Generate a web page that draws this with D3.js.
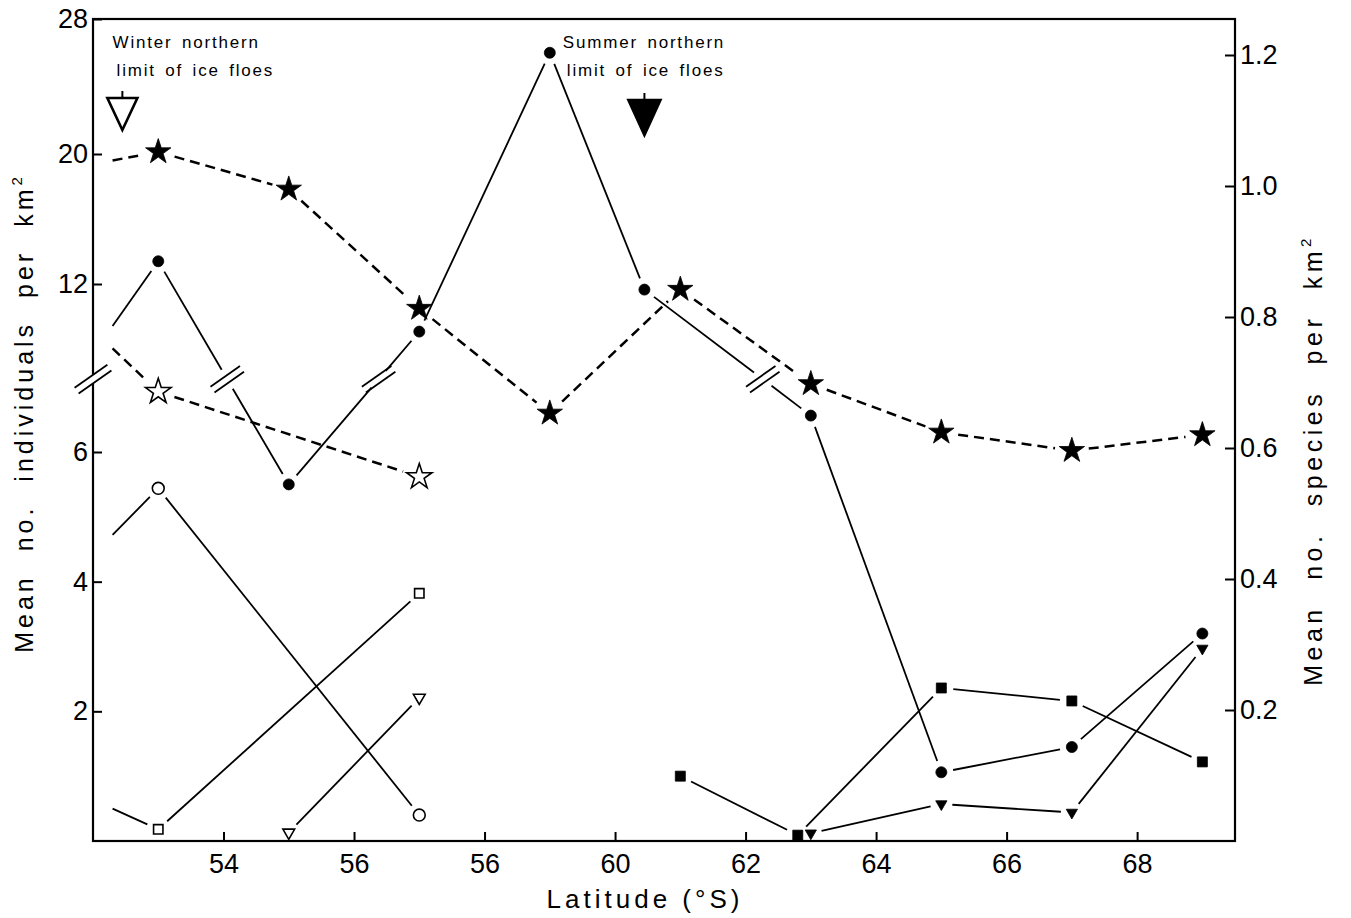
<!DOCTYPE html>
<html>
<head>
<meta charset="utf-8">
<script src="https://cdn.jsdelivr.net/npm/d3@7"></script>
<style>
  html, body { margin: 0; padding: 0; background: #fff; }
  svg { display: block; font-family: "Liberation Sans", Arial, Helvetica, sans-serif; }
</style>
</head>
<body>
<svg id="chart" width="1351" height="918"></svg>
<script>
// ---- Axis ticks ----
const xTickValues = [54, 56, 58, 60, 62, 64, 66, 68];
const xTickLabels = ["54", "56", "56", "60", "62", "64", "66", "68"];
const leftTickValues = [2, 4, 6, 12, 20, 28];
const rightTickValues = [0.2, 0.4, 0.6, 0.8, 1.0, 1.2];
const leftAxisBreak = 8.6;            // value at which the left axis is broken

// ---- Mean no. individuals per km² (left axis, solid lines) ----
// the first point of a lead-in series carries no marker
const filledCircleLat = [52.3, 53, 55, 57, 59, 60.45, 63, 65, 67, 69];
const filledCircleVal = [10.5, 13.4, 5.5, 10.3, 26.0, 11.8, 7.3, 1.06, 1.45, 3.2];
const openCircleLat = [52.3, 53, 57];
const openCircleVal = [4.72, 5.44, 0.40];
const openSquareLat = [52.3, 53, 57];
const openSquareVal = [0.50, 0.18, 3.82];
const openTriangleLat = [55, 57];
const openTriangleVal = [0.13, 2.21];
const filledSquareLat = [61, 62.8, 65, 67, 69];
const filledSquareVal = [1.00, 0.09, 2.36, 2.16, 1.22];
const filledTriangleLat = [63, 65, 67, 69];
const filledTriangleVal = [0.12, 0.57, 0.44, 2.97];

// ---- Mean no. species per km² (right axis, dashed lines) ----
const filledStarLat = [52.3, 53, 55, 57, 59, 61, 63, 65, 67, 69];
const filledStarVal = [1.039, 1.052, 0.995, 0.813, 0.653, 0.842, 0.698, 0.624, 0.596, 0.620];
const openStarLat = [52.3, 53, 57];
const openStarVal = [0.752, 0.686, 0.556];

// ---- Northern limits of ice floes ----
const iceLimitLat = [52.45, 60.45];
const iceLimitText = [["Winter northern", "limit of ice floes"], ["Summer northern", "limit of ice floes"]];
const iceLimitTextLat = [52.3, 59.2];
const iceLimitFilled = [false, true];

// ---- Scales ----
const svg = d3.select("#chart");
const x = d3.scaleLinear().domain([52, 69.5]).range([93, 1235]);
const yLeft = d3.scaleLinear().domain([0, 6, 12, 20, 28]).range([841, 452, 284, 154, 19]);
const yRight = d3.scaleLinear().domain([0, 1.2]).range([841, 55]);
const plot = { left: 93, right: 1235, top: 19, bottom: 841 };

const series = [
  { lat: filledStarLat, val: filledStarVal, y: yRight, shape: "star", filled: true, dashed: true, leadIn: true },
  { lat: openStarLat, val: openStarVal, y: yRight, shape: "star", filled: false, dashed: true, leadIn: true },
  { lat: filledCircleLat, val: filledCircleVal, y: yLeft, shape: "circle", filled: true, leadIn: true, breaks: true },
  { lat: openCircleLat, val: openCircleVal, y: yLeft, shape: "circle", filled: false, leadIn: true },
  { lat: openSquareLat, val: openSquareVal, y: yLeft, shape: "square", filled: false, leadIn: true },
  { lat: openTriangleLat, val: openTriangleVal, y: yLeft, shape: "triangle", filled: false, leadIn: false },
  { lat: filledSquareLat, val: filledSquareVal, y: yLeft, shape: "square", filled: true, leadIn: false },
  { lat: filledTriangleLat, val: filledTriangleVal, y: yLeft, shape: "triangle", filled: true, leadIn: false }
];

const symbolType = { star: d3.symbolStar, circle: d3.symbolCircle, square: d3.symbolSquare, triangle: d3.symbolTriangle };
const symbolSize = { star: 200, circle: 95, square: 100, triangle: 55 };
const openSize = { star: 200, circle: 110, square: 88, triangle: 60 };
const trimFor = { star: 17, circle: 12, square: 12, triangle: 11 };

// ---- Frame and axes ----
svg.append("rect")
  .attr("x", plot.left).attr("y", plot.top)
  .attr("width", plot.right - plot.left).attr("height", plot.bottom - plot.top)
  .attr("fill", "none").attr("stroke", "#000").attr("stroke-width", 2.2);

function styleAxis(g, fontSize) {
  g.select(".domain").remove();
  g.attr("font-family", null).attr("font-size", fontSize);
  g.selectAll(".tick line").attr("stroke", "#000").attr("stroke-width", 2);
  g.selectAll(".tick text").attr("fill", "#000");
}

svg.append("g").attr("transform", `translate(0,${plot.bottom})`)
  .call(d3.axisBottom(x).tickValues(xTickValues).tickFormat((d, i) => xTickLabels[i])
    .tickSize(-9).tickSizeOuter(0).tickPadding(13))
  .call(g => styleAxis(g, 27));

svg.append("g").attr("transform", `translate(${plot.left},0)`)
  .call(d3.axisLeft(yLeft).tickValues(leftTickValues).tickFormat(d3.format("d"))
    .tickSize(-9).tickSizeOuter(0).tickPadding(5))
  .call(g => styleAxis(g, 27));

svg.append("g").attr("transform", `translate(${plot.right},0)`)
  .call(d3.axisRight(yRight).tickValues(rightTickValues).tickFormat(d3.format(".1f"))
    .tickSize(-10).tickSizeOuter(0).tickPadding(5))
  .call(g => styleAxis(g, 27));

// ---- Break marks "//" ----
const slashAngle = -35 * Math.PI / 180;
const sDir = [Math.cos(slashAngle), Math.sin(slashAngle)];
const sNorm = [-sDir[1], sDir[0]];
function drawSlashes(g, px, py, halfLen, sep) {
  [-1, 1].forEach(k => {
    const cx = px + k * sep * sNorm[0], cy = py + k * sep * sNorm[1];
    g.append("line")
      .attr("x1", cx - halfLen * sDir[0]).attr("y1", cy - halfLen * sDir[1])
      .attr("x2", cx + halfLen * sDir[0]).attr("y2", cy + halfLen * sDir[1])
      .attr("stroke", "#000").attr("stroke-width", 1.8);
  });
}

// break on the left axis
const axisBreakY = yLeft(leftAxisBreak);
const axisBreak = svg.append("g");
axisBreak.append("line")
  .attr("x1", plot.left).attr("x2", plot.left)
  .attr("y1", axisBreakY - 4.5).attr("y2", axisBreakY + 4.5)
  .attr("stroke", "#fff").attr("stroke-width", 6);
drawSlashes(axisBreak, plot.left, axisBreakY, 20, 3.5);

// ---- Series lines ----
const linesG = svg.append("g");
series.forEach(s => {
  const pts = s.lat.map((la, i) => [x(la), s.y(s.val[i])]);
  const trim = trimFor[s.shape];
  for (let i = 0; i < pts.length - 1; i++) {
    const a = pts[i], b = pts[i + 1];
    const dx = b[0] - a[0], dy = b[1] - a[1];
    const len = Math.hypot(dx, dy);
    const ux = dx / len, uy = dy / len;
    const t0 = (i === 0 && s.leadIn) ? 0 : trim;
    const t1 = trim;
    const start = [a[0] + ux * t0, a[1] + uy * t0];
    const end = [b[0] - ux * t1, b[1] - uy * t1];
    const parts = [];
    if (s.breaks && (a[1] - axisBreakY) * (b[1] - axisBreakY) < 0) {
      const t = (axisBreakY - a[1]) / dy;
      const P = [a[0] + dx * t, a[1] + dy * t];
      const gap = 11;
      parts.push([start, [P[0] - ux * gap, P[1] - uy * gap]]);
      parts.push([[P[0] + ux * gap, P[1] + uy * gap], end]);
      drawSlashes(linesG, P[0], P[1], 18, 3.5);
    } else {
      parts.push([start, end]);
    }
    parts.forEach(([p, q]) => {
      linesG.append("line")
        .attr("x1", p[0]).attr("y1", p[1]).attr("x2", q[0]).attr("y2", q[1])
        .attr("stroke", "#000")
        .attr("stroke-width", s.dashed ? 2.5 : 1.8)
        .attr("stroke-dasharray", s.dashed ? "10,6" : null);
    });
  }
});

// ---- Markers ----
const markG = svg.append("g");
series.forEach(s => {
  s.lat.forEach((la, i) => {
    if (i === 0 && s.leadIn) return;
    const sym = d3.symbol().type(symbolType[s.shape]).size(s.filled ? symbolSize[s.shape] : openSize[s.shape]);
    const rot = s.shape === "triangle" ? " rotate(180)" : "";
    markG.append("path")
      .attr("d", sym())
      .attr("transform", `translate(${x(la)},${s.y(s.val[i])})${rot}`)
      .attr("fill", s.filled ? "#000" : "#fff")
      .attr("stroke", "#000")
      .attr("stroke-width", s.filled ? 0.8 : 1.6)
      .attr("stroke-linejoin", "miter");
  });
});

// ---- Ice-floe limit markers and notes ----
const iceG = svg.append("g");
iceLimitLat.forEach((la, i) => {
  const cx = x(la);
  const top = iceLimitFilled[i] ? 100 : 98;
  const h = iceLimitFilled[i] ? 35 : 32;
  const hw = iceLimitFilled[i] ? 16 : 15;
  iceG.append("path")
    .attr("d", `M${cx - hw},${top} L${cx + hw},${top} L${cx},${top + h} Z`)
    .attr("fill", iceLimitFilled[i] ? "#000" : "#fff")
    .attr("stroke", "#000").attr("stroke-width", 2.6).attr("stroke-linejoin", "miter");
  iceG.append("line")
    .attr("x1", cx).attr("x2", cx).attr("y1", top - 7).attr("y2", top)
    .attr("stroke", "#000").attr("stroke-width", 2);
  iceLimitText[i].forEach((line, j) => {
    iceG.append("text")
      .attr("x", x(iceLimitTextLat[i]) + (j === 1 ? 4 : 0))
      .attr("y", 48 + j * 28)
      .attr("font-size", 17)
      .attr("letter-spacing", 1.8)
      .attr("word-spacing", 3)
      .attr("fill", "#000")
      .text(line);
  });
});

// ---- Axis titles ----
svg.append("text")
  .attr("x", 645).attr("y", 908)
  .attr("text-anchor", "middle")
  .attr("font-size", 26).attr("letter-spacing", 4)
  .text("Latitude (°S)");

const leftTitle = svg.append("text")
  .attr("transform", "translate(33,413) rotate(-90)")
  .attr("text-anchor", "middle")
  .attr("font-size", 25).attr("letter-spacing", 4).attr("word-spacing", 12);
leftTitle.append("tspan").text("Mean no. individuals per km");
leftTitle.append("tspan").attr("dy", -11).attr("font-size", 15).text("2");

const rightTitle = svg.append("text")
  .attr("transform", "translate(1322,460) rotate(-90)")
  .attr("text-anchor", "middle")
  .attr("font-size", 25).attr("letter-spacing", 4.5).attr("word-spacing", 14);
rightTitle.append("tspan").text("Mean no. species per km");
rightTitle.append("tspan").attr("dy", -11).attr("font-size", 15).text("2");
</script>
</body>
</html>
